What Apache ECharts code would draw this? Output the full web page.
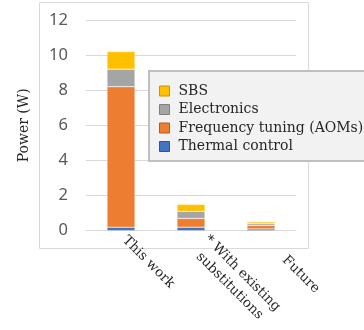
<!DOCTYPE html>
<html>
<head>
<meta charset="utf-8">
<script src="https://cdn.jsdelivr.net/npm/echarts@6/dist/echarts.min.js"></script>
<style>
html,body{margin:0;padding:0;background:#fff;}
#chart{width:364px;height:330px;}
</style>
</head>
<body>
<div id="chart"></div>
<script>
const categories = ['This work', '* With existing\nsubstitutions', 'Future'];
const thermalControl = [0.2, 0.2, 0.1];
const frequencyTuning = [8.0, 0.5, 0.2];
const electronics = [1.0, 0.4, 0.1];
const sbs = [1.0, 0.4, 0.1];
const yTicks = [0, 2, 4, 6, 8, 10, 12];

const labelStyles = [
  { padding: [46, 0, 0, 5] },
  { align: 'center', padding: [42, 0, 0, 127] },
  { padding: [3, 0, 0, 33] }
];

const colors = {
  sbs: '#FFC000', el: '#A5A5A5', fr: '#ED7D31', th: '#4472C4'
};
const borders = {
  sbs: '#C89600', el: '#7F7F7F', fr: '#B45A1E', th: '#2F5597'
};

const chart = echarts.init(document.getElementById('chart'), null, { renderer: 'canvas' });
const serifFont = '"DejaVu Serif", serif';

function bar(name, data, key) {
  return {
    name: name,
    type: 'bar',
    stack: 'total',
    data: data,
    barWidth: '40%',
    itemStyle: { color: colors[key], borderColor: 'rgba(255,255,255,0.6)', borderWidth: 0.5 },
    emphasis: { disabled: true }
  };
}

chart.setOption({
  animation: false,
  graphic: [{
    type: 'rect',
    shape: { x: 39.5, y: 2.5, width: 269, height: 246 },
    style: { fill: 'none', stroke: '#D9D9D9', lineWidth: 1 },
    z: -1
  }],
  grid: { left: 86, right: 68, top: 20, bottom: 99.3, containLabel: false, outerBoundsMode: 'none' },
  legend: {
    orient: 'vertical',
    left: 149,
    top: 71,
    padding: [13, 20, 7.5, 10],
    itemGap: 4.5,
    itemWidth: 10,
    itemHeight: 10,
    backgroundColor: '#F2F2F2',
    borderColor: '#BFBFBF',
    borderWidth: 2,
    borderRadius: 0,
    icon: 'rect',
    textStyle: { fontFamily: serifFont, fontSize: 14, color: '#262626', padding: [0, 0, 0, 4] },
    data: [
      { name: 'SBS', itemStyle: { borderColor: borders.sbs, borderWidth: 1 } },
      { name: 'Electronics', itemStyle: { borderColor: borders.el, borderWidth: 1 } },
      { name: 'Frequency tuning (AOMs)', itemStyle: { borderColor: borders.fr, borderWidth: 1 } },
      { name: 'Thermal control', itemStyle: { borderColor: borders.th, borderWidth: 1 } }
    ]
  },
  xAxis: {
    type: 'category',
    data: categories.map((c, i) => ({ value: c, textStyle: labelStyles[i] })),
    axisLine: { show: true, lineStyle: { color: '#D9D9D9', width: 1 } },
    axisTick: { show: false },
    axisLabel: {
      interval: 0,
      rotate: -45,
      margin: 4,
      fontFamily: serifFont,
      fontSize: 13.5,
      lineHeight: 18,
      color: '#262626'
    }
  },
  yAxis: {
    type: 'value',
    min: yTicks[0],
    max: yTicks[yTicks.length - 1],
    interval: 2,
    name: 'Power (W)',
    nameLocation: 'middle',
    nameGap: 55,
    nameTextStyle: { fontFamily: serifFont, fontSize: 14, color: '#262626' },
    axisLine: { show: false },
    axisTick: { show: false },
    splitLine: { lineStyle: { color: '#D9D9D9', width: 1 } },
    axisLabel: { margin: 18, fontFamily: '"Noto Sans", sans-serif', fontSize: 16.5, color: '#595959' }
  },
  series: [
    bar('Thermal control', thermalControl, 'th'),
    bar('Frequency tuning (AOMs)', frequencyTuning, 'fr'),
    bar('Electronics', electronics, 'el'),
    bar('SBS', sbs, 'sbs')
  ]
});
</script>
</body>
</html>
